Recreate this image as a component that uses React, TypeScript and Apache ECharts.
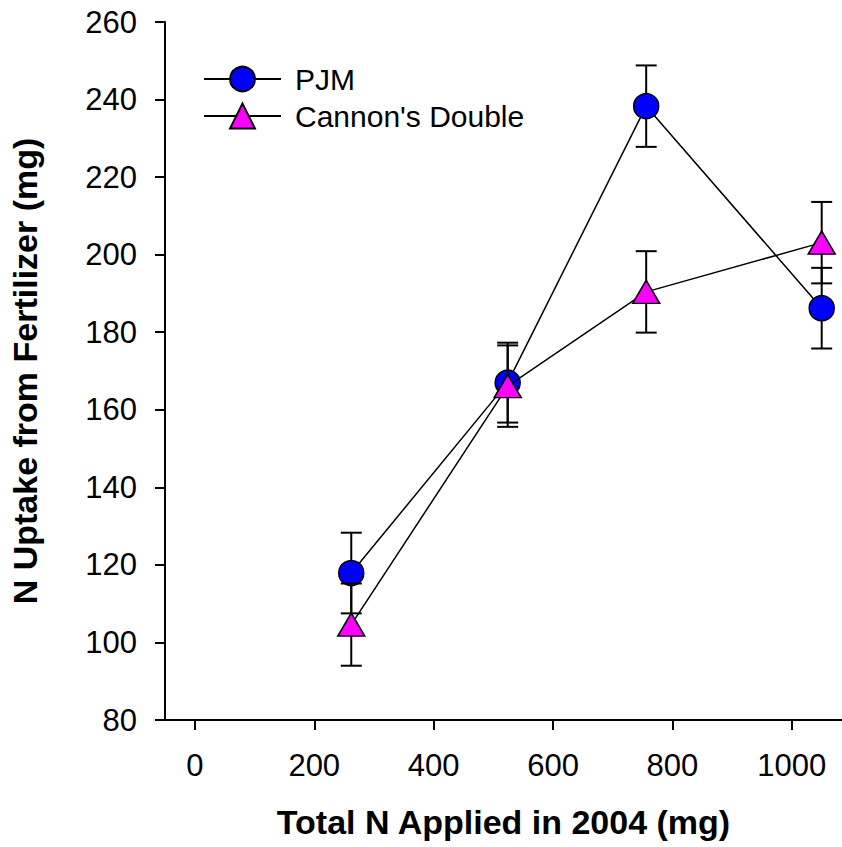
import React, { useEffect, useRef } from "react";
import * as echarts from "echarts";

const nApplied = [262, 524, 756, 1050];
const pjm = [117.9, 167.0, 238.3, 186.2];
const pjmErr = [10.4, 10.3, 10.5, 10.4];
const cannon = [104.6, 166.1, 190.4, 203.1];
const cannonErr = [10.6, 10.5, 10.5, 10.5];
const xTicks = [0, 200, 400, 600, 800, 1000];
const seriesNames = ["PJM", "Cannon's Double"];

const FONT = "'Liberation Sans', Arial, sans-serif";

function errorSeries(ys: number[], errs: number[], z: number) {
  return {
    type: "custom",
    z,
    silent: true,
    data: nApplied.map((x, i) => [x, ys[i] - errs[i], ys[i] + errs[i]]),
    encode: { x: 0, y: [1, 2] },
    renderItem: (params: any, api: any) => {
      const lo = api.coord([api.value(0), api.value(1)]);
      const hi = api.coord([api.value(0), api.value(2)]);
      const w = 10.5;
      const style = { stroke: "#000", lineWidth: 2 };
      return {
        type: "group",
        children: [
          { type: "line", shape: { x1: lo[0], y1: lo[1], x2: hi[0], y2: hi[1] }, style },
          { type: "line", shape: { x1: lo[0] - w, y1: lo[1], x2: lo[0] + w, y2: lo[1] }, style },
          { type: "line", shape: { x1: hi[0] - w, y1: hi[1], x2: hi[0] + w, y2: hi[1] }, style },
        ],
      };
    },
  };
}

export default function App() {
  const ref = useRef<HTMLDivElement>(null);
  useEffect(() => {
    document.body.style.margin = "0";
    if (!ref.current) return;
    const chart = echarts.init(ref.current, undefined, { renderer: "svg" });
    chart.setOption({
      animation: false,
      backgroundColor: "#fff",
      textStyle: { fontFamily: FONT },
      grid: { left: 153, right: 0, top: 22, bottom: 127, containLabel: false },
      legend: {
        data: seriesNames,
        orient: "vertical",
        left: 198,
        top: 59,
        itemWidth: 77,
        itemHeight: 31,
        itemGap: 7,
        textStyle: { fontSize: 30, color: "#000", fontFamily: FONT, padding: [0, 0, 0, 9] },
      },
      xAxis: {
        type: "value",
        min: -50,
        max: 1084,
        name: "Total N Applied in 2004 (mg)",
        nameLocation: "middle",
        nameGap: 85,
        nameTextStyle: { fontSize: 34, fontWeight: "bold", color: "#000", fontFamily: FONT },
        axisLine: { show: true, onZero: false, lineStyle: { color: "#000", width: 2 } },
        axisTick: { show: true, length: 10, customValues: xTicks, lineStyle: { color: "#000", width: 2 } },
        axisLabel: {
          customValues: xTicks,
          fontSize: 31,
          color: "#000",
          margin: 30,
          fontFamily: FONT,
          formatter: (v: number) => String(v),
        },
        splitLine: { show: false },
      },
      yAxis: {
        type: "value",
        min: 80,
        max: 260,
        interval: 20,
        name: "N Uptake from Fertilizer (mg)",
        nameLocation: "middle",
        nameGap: 123,
        nameTextStyle: { fontSize: 34, fontWeight: "bold", color: "#000", fontFamily: FONT },
        axisLine: { show: true, onZero: false, lineStyle: { color: "#000", width: 2 } },
        axisTick: { show: true, length: 10, lineStyle: { color: "#000", width: 2 } },
        axisLabel: { fontSize: 31, color: "#000", margin: 28, fontFamily: FONT, formatter: (v: number) => String(v) },
        splitLine: { show: false },
      },
      series: [
        errorSeries(pjm, pjmErr, 2),
        {
          name: seriesNames[0],
          type: "line",
          z: 3,
          data: nApplied.map((x, i) => [x, pjm[i]]),
          symbol: "circle",
          symbolSize: 25,
          showAllSymbol: true,
          lineStyle: { color: "#000", width: 1.5 },
          itemStyle: { color: "#0000ff", borderColor: "#000", borderWidth: 1.5 },
        },
        errorSeries(cannon, cannonErr, 4),
        {
          name: seriesNames[1],
          type: "line",
          z: 5,
          data: nApplied.map((x, i) => [x, cannon[i]]),
          symbol: "triangle",
          symbolSize: [27, 23],
          showAllSymbol: true,
          lineStyle: { color: "#000", width: 1.5 },
          itemStyle: { color: "#ff00ff", borderColor: "#000", borderWidth: 1.5 },
        },
      ],
    });
    return () => chart.dispose();
  }, []);
  return <div ref={ref} style={{ width: 842, height: 847 }} />;
}
